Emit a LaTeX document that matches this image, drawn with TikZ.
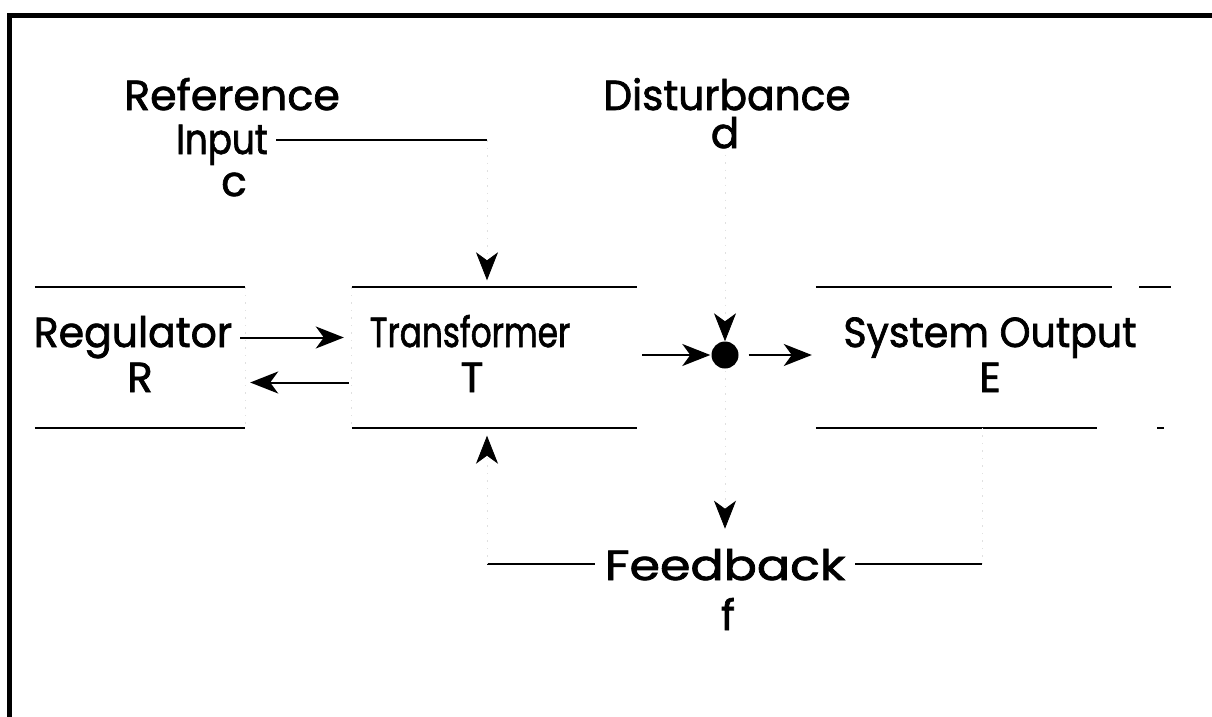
\documentclass[tikz,border=0pt]{standalone}
\usepackage{fontspec}
\usepackage{graphicx}
\newfontfamily\lblfont{Poppins}[FakeBold=1.7]
\usetikzlibrary{arrows.meta,calc}
\newcommand{\hsq}[2]{\scalebox{#1}[1]{#2}}
\begin{document}
\begin{tikzpicture}[x=1pt,y=-1pt,
  txt/.style={font=\lblfont\fontsize{42}{48}\selectfont, inner sep=0pt, anchor=base},
  boxn/.style={draw=none, inner sep=0pt},
  edge/.style={line width=2.2pt},
  faint/.style={line width=0.8pt, black!12, dash pattern=on 1.5pt off 6pt},
  arr/.style={line width=2pt, -{Stealth[length=28pt,width=22pt,inset=8pt]}},
  farr/.style={faint, -{Stealth[length=28pt,width=22pt,inset=8pt,color=black,fill=black]}},
]
\useasboundingbox (0,0) rectangle (1212,717);
% frame
\draw[line width=5pt, line join=miter] (9.5,717) -- (9.5,15.5) -- (1212,15.5);

% boxes
\node[boxn, minimum width=210pt, minimum height=140pt] (regbox) at (140,357.5) {};
\node[boxn, minimum width=285pt, minimum height=140pt] (trbox) at (494.5,357.5) {};
\node[boxn, minimum width=355pt, minimum height=140pt] (sysbox) at (993.5,357.5) {};
\draw[edge] (regbox.north west) -- (regbox.north east);
\draw[edge] (regbox.south west) -- (regbox.south east);
\draw[edge] (trbox.north west) -- (trbox.north east);
\draw[edge] (trbox.south west) -- (trbox.south east);
\draw[edge] (sysbox.north west) -- ++(296,0);
\draw[edge] ([xshift=-32pt]sysbox.north east) -- (sysbox.north east);
\draw[edge] (sysbox.south west) -- ++(281,0);
\draw[edge] ([xshift=-14pt]sysbox.south east) -- ++(7,0);
\draw[faint] (regbox.north east) -- (regbox.south east);
\draw[faint] (trbox.north west) -- (trbox.south west);

% texts
\node[txt] (reftxt) at (232,110) {\hsq{1.02}{Reference}};
\node[txt] (inptxt) at (222,154) {\hsq{0.85}{Input}};
\node[txt] (ctxt) at (234,196) {c};
\node[txt] (disttxt) at (727,110) {\hsq{0.97}{Disturbance}};
\node[txt] (dtxt) at (725,148) {d};
\node[txt] (regtxt) at (133,347) {\hsq{0.975}{Regulator}};
\node[txt] (rtxt) at (140,392) {R};
\node[txt] (trtxt) at (470,347) {\hsq{0.78}{Transformer}};
\node[txt] (ttxt) at (472,392) {T};
\node[txt] (systxt) at (990,347) {\hsq{0.94}{System Output}};
\node[txt] (etxt) at (990,392) {E};
\node[txt] (fbtxt) at (725,580) {\hsq{1.17}{Feedback}};
\node[txt] (ftxt) at (728,630) {f};

% junction
\node[circle, fill, inner sep=0pt, minimum size=27pt] (dot) at (725,355) {};

% coordinates for bends
\coordinate (refc) at (487,140);
\coordinate (fbl) at (487,564);
\coordinate (fbr) at (982,564);

% connectors
\draw[edge, shorten <=8pt] (inptxt.east |- refc) -- (refc);
\draw[farr, shorten >=7pt] (refc) -- (refc |- trbox.north);
\draw[arr, shorten <=-5pt, shorten >=8pt] ([yshift=20pt]regbox.east) -- ([yshift=20pt]trbox.west);
\draw[arr, shorten <=3pt, shorten >=5pt] ([yshift=-25pt]trbox.west) -- ([yshift=-25pt]regbox.east);
\draw[arr, shorten <=5pt, shorten >=1pt] (trbox.east |- dot) -- (dot);
\draw[arr, shorten <=10pt, shorten >=4pt] (dot) -- (sysbox.west |- dot);
\draw[farr, shorten <=6pt] (dtxt.south) -- (dot.north);
\draw[farr, shorten <=2pt, shorten >=20pt] (dot.south) -- (dot.south |- fbtxt.north);
\draw[edge, shorten <=10pt] (fbtxt.west |- fbl) -- (fbl);
\draw[farr, shorten >=8pt] (fbl) -- (fbl |- trbox.south);
\draw[edge, shorten <=10pt] (fbtxt.east |- fbr) -- (fbr);
\draw[faint] (fbr) -- (fbr |- sysbox.south);
\end{tikzpicture}
\end{document}
